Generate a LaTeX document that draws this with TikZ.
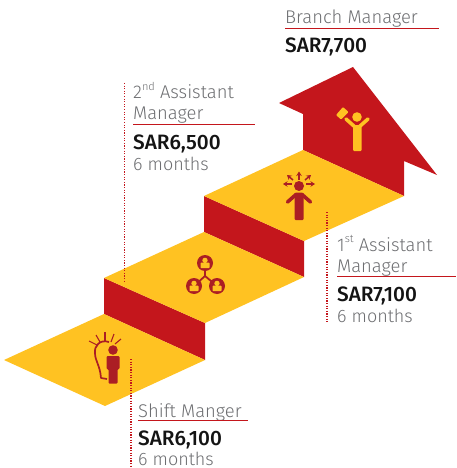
\documentclass[tikz,border=0pt]{standalone}
\usepackage{fontspec}
\newfontfamily\lightf{Fira Sans Light}
\newfontfamily\medf{Fira Sans Medium}
\usetikzlibrary{arrows.meta}
\definecolor{stepyellow}{HTML}{FFC222}
\definecolor{stepred}{HTML}{C4161C}
\definecolor{icondark}{HTML}{AB1E24}
\definecolor{labelgray}{HTML}{6D6E71}
\definecolor{salaryblack}{HTML}{141414}
\tikzset{
  tread/.style={fill=stepyellow,draw=none},
  riser/.style={fill=stepred,draw=none},
  titletext/.style={anchor=base west,inner sep=0pt,text=labelgray,font=\lightf\fontsize{18.4}{21}\selectfont},
  salarytext/.style={anchor=base west,inner sep=0pt,text=salaryblack,font=\medf\fontsize{20.8}{21}\selectfont},
  monthtext/.style={anchor=base west,inner sep=0pt,text=labelgray,font=\lightf\fontsize{18}{21}\selectfont},
  underline/.style={draw=stepred,line width=0.9pt},
  dotline/.style={draw=stepred,line width=1.2pt,dash pattern=on 1.1pt off 1.5pt},
  limb/.style={line width=3.6pt,line cap=round,line join=round},
  ray/.style={draw=icondark,line width=1.1pt},
  burst/.style={draw=icondark,line width=1.5pt,-{Stealth[length=4.5pt,width=5.5pt]}}
}
\begin{document}
\begin{tikzpicture}[x=1pt,y=-1pt]
\useasboundingbox (0,0) rectangle (456,468);
% steps
\fill[riser] (303,150) -- (303,114) -- (279,103) -- (353,67) -- (437,175) -- (404,161) -- (404,196) -- cycle;
\fill[riser] (204,196) -- (304,241) -- (304,277) -- (204,232) -- cycle;
\fill[riser] (104,278) -- (205,323) -- (205,360) -- (104,314) -- cycle;
\fill[tread] (204,196) -- (303,150) -- (404,196) -- (304,241) -- cycle;
\fill[tread] (104,278) -- (204,232) -- (304,277) -- (205,323) -- cycle;
\fill[tread] (4,360) -- (104,314) -- (205,360) -- (105,406) -- cycle;
% bulb icon
\draw[icondark,line width=1.7pt,line join=round] (109,342) .. controls (100,339) and (94,346) .. (95,353) .. controls (95,361) and (100,365) .. (101,378) -- (107,379);
\foreach \a/\b/\c/\d in {89/341/97/345,96/335/100/342,105/332/105/341,114/334/111/342,121/339/115/344}
  \draw[ray] (\a,\b) -- (\c,\d);
\fill[icondark] (113,350) circle (4.8);
\fill[icondark,rounded corners=1pt] (106.5,356) -- (119.5,356) -- (119.5,369) -- (117.5,369) -- (117.5,383.5) -- (108.5,383.5) -- (108.5,369) -- (106.5,369) -- cycle;
% team icon
\draw[icondark,line width=1.8pt] (205,270) -- (205,276) (194,286) -- (205,276) -- (217,286);
\foreach \cx/\cy in {205/263,194/286,217/286}{
  \fill[icondark] (\cx,\cy) circle (8);
  \fill[stepyellow] (\cx,{\cy-2.6}) circle (2.7);
  \fill[stepyellow,rounded corners=0.6pt] ({\cx-4.5},{\cy-0.3}) rectangle ({\cx+4.5},{\cy+5});
}
% leader icon
\fill[icondark] (299,186) circle (5);
\draw[icondark,limb] (287.5,202) -- (296,194.5) -- (302,194.5) -- (310.5,202);
\fill[icondark,rounded corners=1pt] (294.5,193) -- (303.5,193) -- (303.5,220) -- (294.5,220) -- cycle;
\draw[burst] (299,179.5) -- (299,171.5);
\draw[burst] (292,184) -- (283,184);
\draw[burst] (306,184) -- (315,184);
\draw[burst] (293,180) -- (287,175);
\draw[burst] (305,180) -- (311,175);
% branch manager icon
\fill[stepyellow] (357,117) circle (4.8);
\draw[stepyellow,limb] (346,119) -- (355,127) -- (359,127) -- (368,119);
\fill[stepyellow,rounded corners=1pt] (353,125) -- (361.5,125) -- (361.5,151) -- (353,151) -- cycle;
\fill[stepyellow,rounded corners=0.8pt] (336,115) -- (343,107) -- (348.5,112) -- (341,119.5) -- cycle;
% labels
\node[titletext] (shift) at (138,417) {Shift Manger};
\node[salarytext] (shiftpay) at (138,445.5) {SAR6,100};
\node[monthtext] (shifttime) at (138,465) {6 months};
\coordinate (shiftl) at (138,420); \coordinate (shiftr) at (248,420);
\draw[underline] (shiftl) -- (shiftr);
\coordinate (shiftdA) at (131,359); \coordinate (shiftdB) at (131,467);
\draw[dotline] (shiftdA) -- (shiftdB);

\node[titletext] (second) at (133,99) {2\raisebox{0.45em}{\fontsize{11}{11}\selectfont nd} Assistant};
\node[titletext] (secondb) at (133,120) {Manager};
\node[salarytext] (secondpay) at (133,149) {SAR6,500};
\node[monthtext] (secondtime) at (133,170) {6 months};
\coordinate (secondl) at (133,124); \coordinate (secondr) at (255,124);
\draw[underline] (secondl) -- (secondr);
\coordinate (seconddA) at (124.5,83); \coordinate (seconddB) at (124.5,281);
\draw[dotline] (seconddA) -- (seconddB);

\node[titletext] (first) at (337,251) {1\raisebox{0.45em}{\fontsize{11}{11}\selectfont st} Assistant};
\node[titletext] (firstb) at (337,272) {Manager};
\node[salarytext] (firstpay) at (337,301) {SAR7,100};
\node[monthtext] (firsttime) at (337,322) {6 months};
\coordinate (firstl) at (337,276); \coordinate (firstr) at (456,276);
\draw[underline] (firstl) -- (firstr);
\coordinate (firstdA) at (327,212); \coordinate (firstdB) at (327,322);
\draw[dotline] (firstdA) -- (firstdB);

\node[titletext] (branch) at (285,24) {Branch Manager};
\node[salarytext] (branchpay) at (285,52.5) {SAR7,700};
\coordinate (branchl) at (285,28); \coordinate (branchr) at (439,28);
\draw[underline] (branchl) -- (branchr);
\end{tikzpicture}
\end{document}
